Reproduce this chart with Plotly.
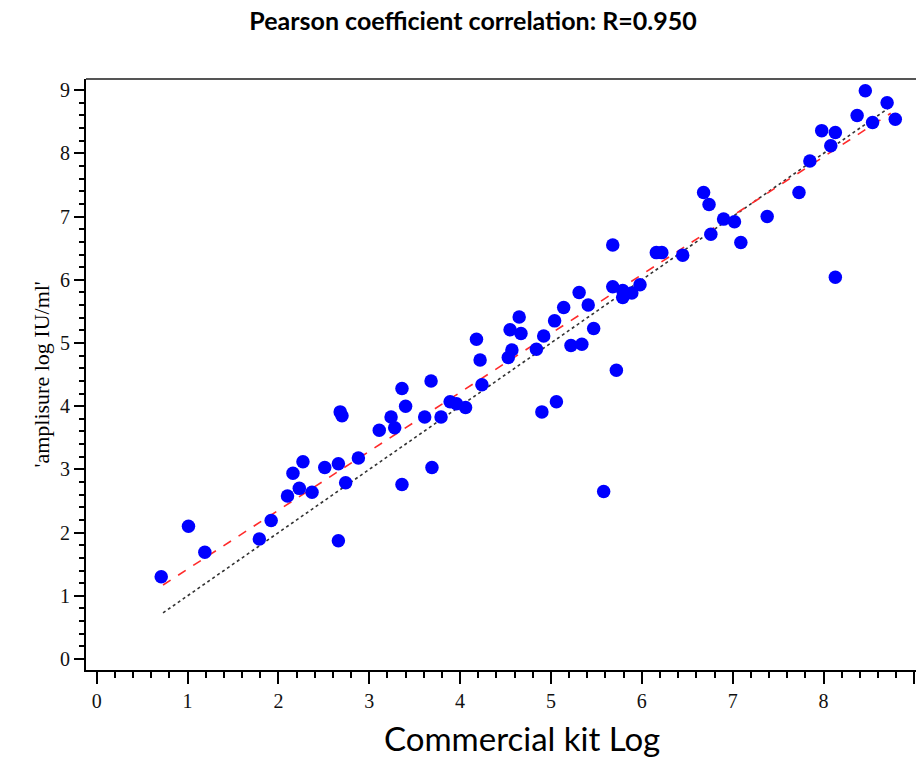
import plotly.graph_objects as go

kit_log = [0.71, 1.01, 1.19, 1.79, 1.92, 2.10, 2.23, 2.16, 2.27, 2.37, 2.51, 2.66, 2.74, 2.66,
           2.68, 2.70, 2.88, 3.11, 3.24, 3.28, 3.36, 3.40, 3.36, 3.61, 3.68, 3.69, 3.79, 3.89,
           3.96, 4.06, 4.18, 4.22, 4.24, 4.55, 4.65, 4.67, 4.57, 4.53, 4.84, 4.92, 5.04, 5.14,
           5.22, 5.34, 5.31, 5.41, 5.47, 4.90, 5.06, 5.72, 5.58, 5.68, 5.68, 5.79, 5.79, 5.89,
           5.98, 6.16, 6.22, 6.45, 6.68, 6.74, 6.76, 6.90, 7.02, 7.09, 7.38, 7.73, 7.85, 7.98,
           8.13, 8.08, 8.13, 8.37, 8.46, 8.54, 8.70, 8.79]
amplisure_log = [1.30, 2.10, 1.69, 1.90, 2.19, 2.58, 2.70, 2.94, 3.12, 2.64, 3.03, 3.09, 2.79, 1.87,
                 3.91, 3.85, 3.18, 3.62, 3.83, 3.66, 4.28, 4.00, 2.76, 3.83, 4.40, 3.03, 3.83, 4.07,
                 4.04, 3.98, 5.06, 4.73, 4.34, 5.21, 5.41, 5.15, 4.89, 4.77, 4.90, 5.11, 5.35, 5.56,
                 4.96, 4.98, 5.80, 5.60, 5.23, 3.91, 4.07, 4.57, 2.65, 6.55, 5.89, 5.83, 5.72, 5.79,
                 5.92, 6.43, 6.43, 6.39, 7.38, 7.19, 6.72, 6.96, 6.92, 6.59, 7.00, 7.38, 7.88, 8.36,
                 8.33, 8.12, 6.04, 8.60, 8.99, 8.49, 8.80, 8.54]

line_x = [0.73, 8.74]
fit_slope = 0.932
fit_intercept = 0.49
fit_y = [fit_intercept + fit_slope * x for x in line_x]
identity_y = [x for x in line_x]

x_ticks = list(range(0, 10))
y_ticks = list(range(0, 10))

fig = go.Figure()
fig.add_trace(go.Scatter(x=line_x, y=identity_y, mode="lines",
                         line=dict(color="#333333", width=1.6, dash="dot"), hoverinfo="skip"))
fig.add_trace(go.Scatter(x=line_x, y=fit_y, mode="lines",
                         line=dict(color="#ff2a2a", width=1.6, dash="dash"), hoverinfo="skip"))
fig.add_trace(go.Scatter(x=kit_log, y=amplisure_log, mode="markers",
                         marker=dict(color="#0000ff", size=13.5, line=dict(width=0))))

tickfont = dict(family="Liberation Serif", size=20, color="#111111")
fig.update_layout(
    width=916, height=782,
    margin=dict(l=86, r=0, t=79, b=112, autoexpand=False),
    paper_bgcolor="white", plot_bgcolor="white",
    showlegend=False,
    title=dict(text="<b>Pearson coefficient correlation: R=0.950</b>",
               font=dict(family="Lato", size=25, color="black"),
               x=0.5164, xanchor="center", y=0.9731, yanchor="middle"),
    xaxis=dict(range=[-0.118, 9.018], tickvals=x_ticks, ticks="outside", ticklen=12,
               tickwidth=2, tickcolor="black", showline=True, linecolor="black", linewidth=2,
               showgrid=False, zeroline=False, tickfont=tickfont, automargin=False,
               minor=dict(dtick=0.2, tick0=0, ticks="outside", ticklen=6, tickwidth=1.5,
                          tickcolor="black", showgrid=False)),
    yaxis=dict(range=[-0.174, 9.177], tickvals=y_ticks, ticks="outside", ticklen=10,
               tickwidth=2, tickcolor="black", showline=True, linecolor="black", linewidth=2,
               showgrid=False, zeroline=False, tickfont=tickfont, automargin=False,
               minor=dict(dtick=0.2, tick0=0, ticks="outside", ticklen=5, tickwidth=1.5,
                          tickcolor="black", showgrid=False)),
    shapes=[dict(type="line", xref="paper", yref="paper", x0=0, x1=1, y0=1, y1=1,
                 line=dict(color="#555555", width=2))],
    annotations=[
        dict(text="Commercial kit Log", xref="paper", yref="paper", x=0.525, y=-0.115,
             xanchor="center", yanchor="middle", showarrow=False,
             font=dict(family="Lato", size=33, color="black")),
        dict(text="'amplisure log IU/ml'", xref="paper", yref="paper", x=-0.0542, y=0.5,
             xanchor="center", yanchor="middle", showarrow=False, textangle=-90,
             font=dict(family="Liberation Serif", size=22, color="black")),
    ],
)

fig.write_html("out.html", config={"displayModeBar": False},
               post_script="document.body.style.margin='0';")
